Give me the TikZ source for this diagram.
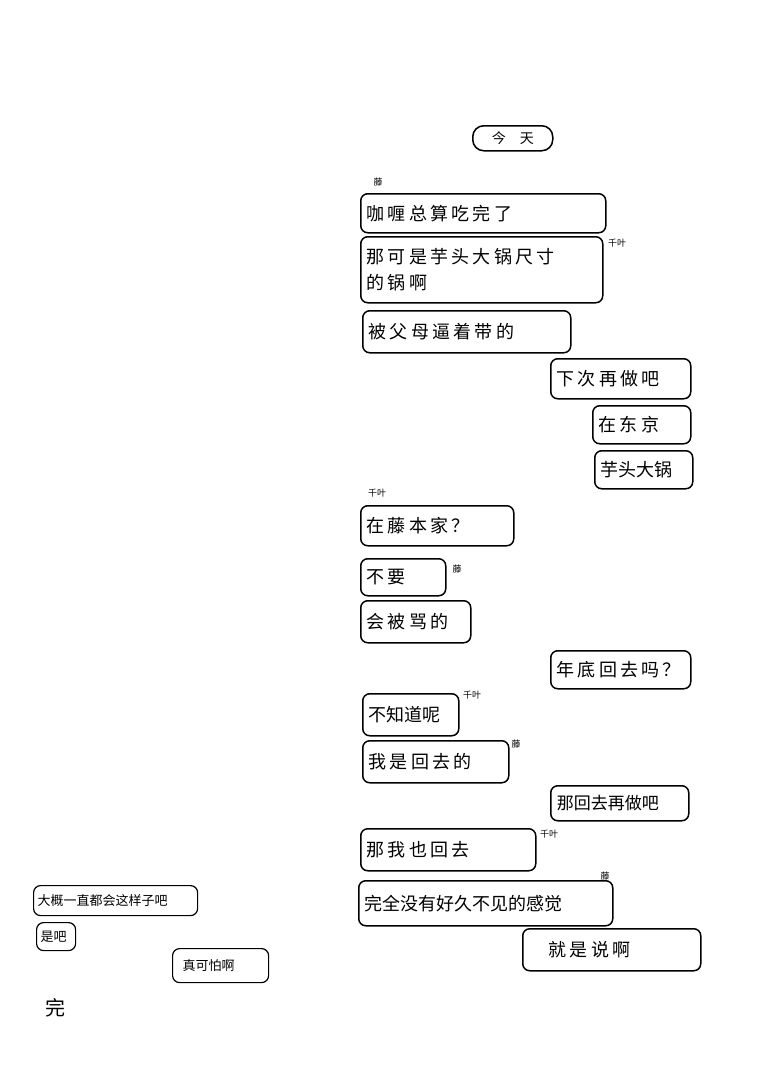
\documentclass[tikz,border=0pt]{standalone}
\usepackage{fontspec}
\newfontfamily\cjk{Noto Sans CJK SC}
\newfontfamily\cjkwide[LetterSpace=18]{Noto Sans CJK SC}
\tikzset{
bubble/.style={ % chat bubbles
draw, line width=1.5pt, rounded corners=7pt, anchor=north west,
font=\cjkwide\fontsize{18}{26}\selectfont, align=left, inner xsep=6pt},
who/.style={font=\cjk\fontsize{9}{10}\selectfont},
small/.style={bubble, line width=1.2pt, font=\cjk\fontsize{13}{16}\selectfont, inner xsep=4pt}}
\begin{document}
\begin{tikzpicture}[x=1pt,y=-1pt]
\useasboundingbox (0,0) rectangle (762,1076);
\node[bubble, rounded corners=11pt, minimum width=80pt, minimum height=25pt, align=center, font=\cjk\fontsize{14}{16}\selectfont] (today) at (472,125) {今\quad 天};

\node[who] (fuji1) at (378,182) {藤};
\node[bubble, text width=233pt, minimum height=39pt] (m1) at (360,193) {咖喱总算吃完了};
\node[bubble, text width=230pt, minimum height=66pt] (m2) at (360,236) {那可是芋头大锅尺寸\\的锅啊};
\node[who] (chiba1) at (617,243) {千叶};
\node[bubble, text width=196pt, minimum height=42pt] (m3) at (362,310) {被父母逼着带的};
\node[bubble, text width=128pt, minimum height=40pt] (m4) at (550,358) {下次再做吧};
\node[bubble, text width=86pt, minimum height=38pt] (m5) at (592,405) {在东京};
\node[bubble, text width=86pt, minimum height=38pt, font=\cjk\fontsize{18}{26}\selectfont] (m6) at (594,450) {芋头大锅};

\node[who] (chiba2) at (377,493) {千叶};
\node[bubble, text width=141pt, minimum height=40pt] (m7) at (360,505) {在藤本家？};
\node[bubble, text width=73pt, minimum height=37pt] (m8) at (360,558) {不要};
\node[who] (fuji2) at (457,569) {藤};
\node[bubble, text width=98pt, minimum height=42pt] (m9) at (360,600) {会被骂的};
\node[bubble, text width=128pt, minimum height=38pt] (m10) at (550,650) {年底回去吗？};
\node[bubble, text width=84pt, minimum height=42pt, font=\cjk\fontsize{18}{26}\selectfont] (m11) at (362,693) {不知道呢};
\node[who] (chiba3) at (472,695) {千叶};
\node[bubble, text width=134pt, minimum height=42pt] (m12) at (362,740) {我是回去的};
\node[who] (fuji3) at (516,744) {藤};
\node[bubble, text width=126pt, minimum height=35pt, font=\cjk\fontsize{17}{20}\selectfont] (m13) at (550,785) {那回去再做吧};
\node[bubble, text width=163pt, minimum height=42pt] (m14) at (360,828) {那我也回去};
\node[who] (chiba4) at (549,834) {千叶};
\node[bubble, text width=242pt, minimum height=45pt, font=\cjk\fontsize{18}{26}\selectfont] (m15) at (358,880) {完全没有好久不见的感觉};
\node[who] (fuji4) at (605,876) {藤};
\node[bubble, text width=166pt, minimum height=42pt] (m16) at (522,928) {\hspace{20pt}就是说啊};

\node[small, text width=156pt, minimum height=30pt] (s1) at (33,885) {大概一直都会这样子吧};
\node[small, text width=31pt, minimum height=28pt] (s2) at (36,922) {是吧};
\node[small, text width=88pt, minimum height=34pt] (s3) at (172,948) {\hspace{6pt}真可怕啊};
\node[font=\cjk\fontsize{20}{24}\selectfont] (end) at (55,1008) {完};
\end{tikzpicture}
\end{document}
